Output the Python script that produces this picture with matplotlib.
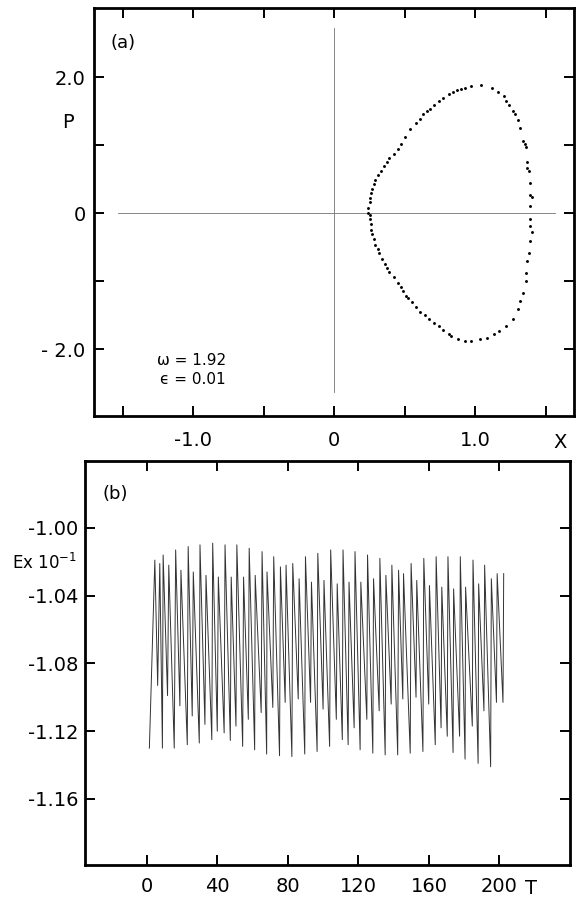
import matplotlib
matplotlib.use("Agg")
import matplotlib.pyplot as plt

# (a) surface-of-section points, X vs P, going round the closed curve
orbit_x = [0.24, 0.24, 0.25, 0.25, 0.26, 0.27, 0.28, 0.29, 0.31, 0.33,
           0.35, 0.37, 0.39, 0.42, 0.45, 0.47, 0.50, 0.54, 0.58, 0.61,
           0.63, 0.66, 0.68, 0.71, 0.74, 0.77, 0.81, 0.84, 0.87, 0.90,
           0.93, 0.97, 1.04, 1.12, 1.16, 1.20, 1.22, 1.24, 1.27, 1.28,
           1.30, 1.32, 1.34, 1.35, 1.36, 1.37, 1.37, 1.38, 1.39, 1.39,
           1.40, 1.39, 1.39, 1.39, 1.40, 1.39, 1.38, 1.37, 1.36, 1.36,
           1.34, 1.32, 1.30, 1.27, 1.22, 1.17, 1.13, 1.08, 1.03, 0.97,
           0.93, 0.88, 0.83, 0.81, 0.77, 0.74, 0.71, 0.67, 0.64, 0.61,
           0.58, 0.55, 0.52, 0.51, 0.49, 0.47, 0.45, 0.42, 0.39, 0.37,
           0.36, 0.34, 0.32, 0.31, 0.29, 0.28, 0.27, 0.26, 0.26, 0.25,
           0.25]
orbit_p = [0.00, 0.08, 0.16, 0.23, 0.30, 0.36, 0.43, 0.49, 0.56, 0.62,
           0.69, 0.75, 0.82, 0.88, 0.95, 1.02, 1.13, 1.24, 1.33, 1.39,
           1.46, 1.50, 1.54, 1.60, 1.65, 1.70, 1.76, 1.79, 1.82, 1.83,
           1.85, 1.88, 1.89, 1.84, 1.78, 1.72, 1.65, 1.60, 1.50, 1.46,
           1.37, 1.25, 1.07, 1.02, 0.97, 0.75, 0.67, 0.62, 0.44, 0.27,
           0.24, 0.11, -0.09, -0.19, -0.28, -0.41, -0.58, -0.70, -0.87, -1.00,
           -1.17, -1.29, -1.41, -1.56, -1.66, -1.73, -1.78, -1.83, -1.85, -1.88,
           -1.88, -1.85, -1.80, -1.77, -1.71, -1.66, -1.61, -1.55, -1.50, -1.45,
           -1.37, -1.31, -1.25, -1.21, -1.14, -1.08, -1.02, -0.93, -0.86, -0.80,
           -0.74, -0.67, -0.59, -0.53, -0.46, -0.38, -0.31, -0.25, -0.16, -0.09,
           -0.02]

# (b) energy (x 10^-1) vs time: each trough is followed by the next peak
trough_t = [1.5, 6.2, 8.9, 11.8, 15.6, 18.8, 23.0, 25.8, 29.8, 33.0,
            36.9, 40.0, 43.9, 47.4, 50.6, 54.4, 57.6, 61.2, 64.9, 68.0,
            71.5, 75.3, 78.5, 82.3, 85.9, 89.6, 92.9, 96.6, 100.0, 103.7,
            107.5, 110.9, 114.2, 117.6, 121.0, 124.8, 128.2, 131.8, 135.2, 138.6,
            142.3, 145.2, 149.4, 152.7, 156.6, 159.9, 163.6, 166.9, 170.4, 173.7,
            177.4, 180.5, 184.6, 187.9, 191.2, 195.0, 198.3, 202.0]
trough_e = [-1.130, -1.093, -1.130, -1.099, -1.130, -1.105, -1.128, -1.111, -1.127, -1.116,
            -1.125, -1.120, -1.121, -1.1255, -1.117, -1.129, -1.113, -1.131, -1.109, -1.1335,
            -1.106, -1.1345, -1.103, -1.135, -1.101, -1.1335, -1.103, -1.132, -1.107, -1.129,
            -1.113, -1.125, -1.128, -1.118, -1.131, -1.113, -1.133, -1.108, -1.134, -1.104,
            -1.134, -1.101, -1.133, -1.100, -1.132, -1.104, -1.128, -1.118, -1.123, -1.1326,
            -1.123, -1.1365, -1.117, -1.139, -1.108, -1.141, -1.103, -1.103]
peak_t = [4.6, 7.4, 9.3, 12.5, 16.4, 19.4, 23.5, 26.4, 30.2, 33.6,
          37.4, 40.6, 44.4, 47.9, 51.1, 54.9, 58.1, 61.5, 65.4, 68.2,
          72.0, 75.8, 79.0, 82.8, 86.4, 90.0, 93.4, 97.0, 100.5, 104.3,
          108.0, 111.3, 114.7, 118.1, 121.4, 125.2, 128.6, 132.2, 135.6, 139.0,
          142.8, 145.6, 149.9, 153.1, 157.1, 160.3, 164.1, 167.3, 170.8, 174.0,
          177.8, 180.8, 185.0, 188.2, 191.6, 195.4, 198.7, 202.4]
peak_e = [-1.019, -1.021, -1.016, -1.022, -1.013, -1.025, -1.011, -1.026, -1.010, -1.028,
          -1.009, -1.029, -1.010, -1.029, -1.010, -1.029, -1.012, -1.028, -1.014, -1.026,
          -1.017, -1.023, -1.022, -1.021, -1.030, -1.017, -1.032, -1.015, -1.031, -1.013,
          -1.033, -1.013, -1.032, -1.014, -1.032, -1.016, -1.030, -1.018, -1.028, -1.022,
          -1.025, -1.027, -1.021, -1.031, -1.018, -1.034, -1.017, -1.035, -1.017, -1.036,
          -1.017, -1.035, -1.019, -1.033, -1.022, -1.030, -1.027, -1.027]

x_ticks_a = [-1.5, -1.0, -0.5, 0.0, 0.5, 1.0, 1.5]
x_labels_a = ['', '-1.0', '', '0', '', '1.0', '']
y_ticks_a = [-2.0, -1.0, 0.0, 1.0, 2.0]
y_labels_a = ['- 2.0', '', '0', '', '2.0']

t_ticks = [0, 40, 80, 120, 160, 200]
t_labels = ['0', '40', '80', '120', '160', '200']
e_ticks = [-1.16, -1.12, -1.08, -1.04, -1.00]
e_labels = ['-1.16', '-1.12', '-1.08', '-1.04', '-1.00']

plt.rcParams['font.family'] = ['DejaVu Sans']
FS = 14


def style_axes(ax, pad):
    for side in ax.spines.values():
        side.set_linewidth(2.0)
    ax.tick_params(direction='in', length=7, width=1.4, top=True, right=True,
                   labelsize=FS, pad=pad)


def main():
    fig = plt.figure(figsize=(5.77, 8.99), dpi=100)

    ax_a = fig.add_axes([94 / 577, 1 - 416 / 899, 480 / 577, 408 / 899])
    ax_a.plot([-1.535, 1.565], [0, 0], color='0.45', lw=0.6)
    ax_a.plot([0, 0], [-2.63, 2.72], color='0.45', lw=0.6)
    ax_a.plot(orbit_x, orbit_p, 'o', color='black', ms=2.1, mew=0)
    ax_a.set_xlim(-1.705, 1.70)
    ax_a.set_ylim(-2.98, 3.02)
    ax_a.set_xticks(x_ticks_a)
    ax_a.set_xticklabels(x_labels_a)
    ax_a.set_yticks(y_ticks_a)
    ax_a.set_yticklabels(y_labels_a)
    style_axes(ax_a, 6)
    ax_a.tick_params(axis='x', pad=11)
    ax_a.text(0.06, 0.915, '(a)', transform=ax_a.transAxes, fontsize=13,
              ha='center', va='center')
    ax_a.text(-1.26, -2.16, '\u03c9 = 1.92', fontsize=11, va='center')
    ax_a.text(-1.24, -2.45, '\u03f5 = 0.01', fontsize=11, va='center')
    fig.text(68 / 577, 1 - 123 / 899, 'P', fontsize=FS, ha='center', va='center')
    fig.text(560 / 577, 1 - 442 / 899, 'X', fontsize=FS, ha='center', va='center')

    ax_b = fig.add_axes([85 / 577, 1 - 865 / 899, 485 / 577, 404 / 899])
    t_line, e_line = [], []
    for tt, te, pt, pe in zip(trough_t, trough_e, peak_t, peak_e):
        t_line += [tt, pt]
        e_line += [te, pe]
    ax_b.plot(t_line, e_line, color='0.2', lw=0.7)
    ax_b.set_xlim(-35, 240)
    ax_b.set_ylim(-1.199, -0.9605)
    ax_b.set_xticks(t_ticks)
    ax_b.set_xticklabels(t_labels)
    ax_b.set_yticks(e_ticks)
    ax_b.set_yticklabels(e_labels)
    style_axes(ax_b, 5)
    ax_b.tick_params(axis='x', pad=9)
    ax_b.text(0.063, 0.918, '(b)', transform=ax_b.transAxes, fontsize=13,
              ha='center', va='center')
    fig.text(45 / 577, 1 - 563 / 899, 'Ex 10$^{-1}$', fontsize=12,
             ha='center', va='center')
    fig.text(531 / 577, 1 - 889 / 899, 'T', fontsize=FS, ha='center', va='center')

    fig.savefig('out.png', dpi=100)


if __name__ == "__main__":
    main()
